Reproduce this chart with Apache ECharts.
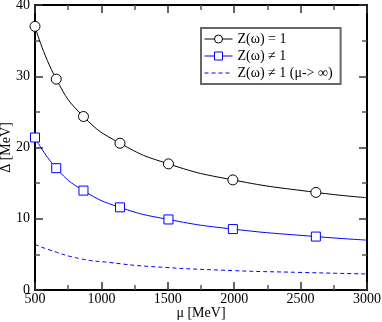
<!DOCTYPE html>
<html>
<head>
<meta charset="utf-8">
<script src="https://cdn.jsdelivr.net/npm/echarts@6/dist/echarts.min.js"></script>
<style>
  html, body { margin: 0; padding: 0; background: #fff; }
  #chart { width: 382px; height: 322px; }
</style>
</head>
<body>
<div id="chart"></div>
<script>
// μ [MeV] at the markers
const muPts = [500, 660, 865, 1140, 1505, 1990, 2615]
// Z(ω) = 1 (circles)
const deltaZ1 = [37.0, 29.6, 24.35, 20.6, 17.7, 15.45, 13.7]
// Z(ω) ≠ 1 (squares)
const deltaZn1 = [21.4, 17.1, 13.95, 11.6, 9.9, 8.55, 7.5]
// curve end values at μ = 3000
const muEnd = 3000
const endZ1 = 12.95
const endZn1 = 7.0
// Z(ω) ≠ 1 (μ -> ∞), dashed
const muInf = [500, 613, 839, 1065, 1366, 1991, 2495, 3000]
const deltaInf = [6.4, 5.6, 4.4, 3.85, 3.3, 2.72, 2.47, 2.25]

const names = ['Z(ω) = 1', 'Z(ω) ≠ 1', 'Z(ω) ≠ 1 (μ-> ∞)']
const font = 'Liberation Serif'
const fs = 14

function withEnd (ys, endY) {
  const d = muPts.map((x, i) => [x, ys[i]])
  d.push({ value: [muEnd, endY], symbol: 'none' })
  return d
}

const myChart = echarts.init(document.getElementById('chart'))

const axisCommon = {
  axisLine: { show: true, onZero: false, lineStyle: { color: '#000', width: 2 } },
  axisTick: { show: true, inside: true, length: 8, lineStyle: { color: '#333', width: 1.5 } },
  minorTick: { show: true, splitNumber: 2, length: 5, lineStyle: { color: '#555', width: 1.5 } },
  splitLine: { show: false },
  minorSplitLine: { show: false }
}

const option = {
  animation: false,
  textStyle: { fontFamily: font },
  grid: { left: 35, right: 15, top: 5, bottom: 32, containLabel: false, outerBoundsMode: 'none' },
  legend: {
    orient: 'vertical',
    left: 201,
    top: 28,
    width: 132,
    padding: [4, 8, 4, 3],
    itemGap: 3,
    itemWidth: 28,
    itemHeight: 10,
    borderColor: '#666',
    borderWidth: 2,
    borderRadius: 0,
    lineStyle: { width: 1 },
    itemStyle: { borderWidth: 1 },
    textStyle: { fontFamily: font, fontSize: fs, color: '#000' },
    data: [names[0], names[1], { name: names[2], itemStyle: { opacity: 0 } }]
  },
  xAxis: [
    Object.assign({
      type: 'value', min: 500, max: 3000, interval: 500, position: 'bottom',
      name: 'μ [MeV]', nameLocation: 'middle', nameGap: 16, nameMoveOverlap: false,
      nameTextStyle: { fontFamily: font, fontSize: fs, color: '#000' },
      axisLabel: { fontFamily: font, fontSize: fs, color: '#000', margin: 2, formatter: v => String(v) }
    }, axisCommon),
    Object.assign({
      type: 'value', min: 500, max: 3000, interval: 500, position: 'top',
      axisLabel: { show: false }
    }, axisCommon)
  ],
  yAxis: [
    Object.assign({
      type: 'value', min: 0, max: 40, interval: 10, position: 'left',
      name: 'Δ [MeV]', nameLocation: 'middle', nameGap: 22, nameMoveOverlap: false,
      nameTextStyle: { fontFamily: font, fontSize: fs, color: '#000' },
      axisLabel: { fontFamily: font, fontSize: fs, color: '#000', margin: 5 }
    }, axisCommon),
    Object.assign({
      type: 'value', min: 0, max: 40, interval: 10, position: 'right',
      axisLabel: { show: false }
    }, axisCommon)
  ],
  series: [
    {
      name: names[0],
      type: 'line',
      smooth: 0.5,
      symbol: 'circle',
      symbolSize: 10,
      itemStyle: { color: '#fff', borderColor: '#000', borderWidth: 1 },
      lineStyle: { color: '#000', width: 1 },
      data: withEnd(deltaZ1, endZ1)
    },
    {
      name: names[1],
      type: 'line',
      smooth: 0.5,
      symbol: 'rect',
      symbolSize: 9,
      itemStyle: { color: '#fff', borderColor: '#0000ff', borderWidth: 1 },
      lineStyle: { color: '#0000ff', width: 1 },
      data: withEnd(deltaZn1, endZn1)
    },
    {
      name: names[2],
      type: 'line',
      smooth: 0.5,
      showSymbol: false,
      symbol: 'none',
      itemStyle: { color: '#0000ff' },
      lineStyle: { color: '#0000ff', width: 1, type: [4, 3] },
      data: muInf.map((x, i) => [x, deltaInf[i]])
    }
  ]
}

myChart.setOption(option)
window.addEventListener('resize', function () {
  myChart.resize()
})
</script>
</body>
</html>
